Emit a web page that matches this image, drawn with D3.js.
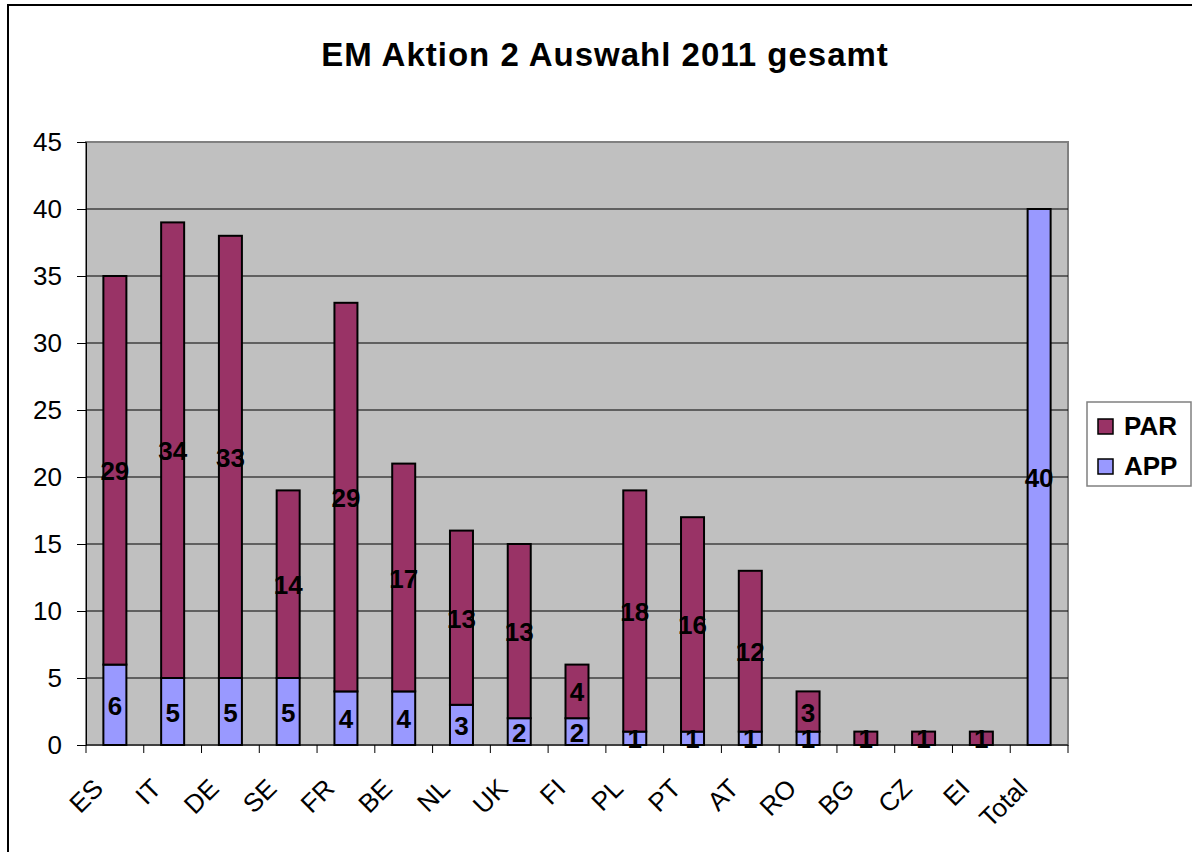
<!DOCTYPE html>
<html>
<head>
<meta charset="utf-8">
<script src="https://cdn.jsdelivr.net/npm/d3@7"></script>
<style>
  body { margin: 0; background: #fff; }
  text { font-family: "Liberation Sans", Arial, sans-serif; }
</style>
</head>
<body>
<script>
// chart data
const categories = ["ES", "IT", "DE", "SE", "FR", "BE", "NL", "UK", "FI", "PL", "PT", "AT", "RO", "BG", "CZ", "EI", "Total"]
const appValues = [6, 5, 5, 5, 4, 4, 3, 2, 2, 1, 1, 1, 1, 0, 0, 0, 40]
const parValues = [29, 34, 33, 14, 29, 17, 13, 13, 4, 18, 16, 12, 3, 1, 1, 1, 0]
const yTicks = [0, 5, 10, 15, 20, 25, 30, 35, 40, 45]
const seriesNames = ["PAR", "APP"]
const colors = { PAR: "#993366", APP: "#9999FF" }

const width = 1192, height = 852
const plot = { left: 86, right: 1068, top: 142, bottom: 745 }

const svg = d3.select("body").append("svg")
    .attr("width", width)
    .attr("height", height)

// outer border
svg.append("rect")
    .attr("x", 8).attr("y", 5)
    .attr("width", width + 10).attr("height", height + 10)
    .attr("fill", "#fff")
    .attr("stroke", "#000")
    .attr("stroke-width", 2)

svg.append("text")
    .attr("x", 605).attr("y", 66)
    .attr("text-anchor", "middle")
    .style("font-size", "33px")
    .style("font-weight", "bold")
    .style("letter-spacing", "1px")
    .text("EM Aktion 2 Auswahl 2011 gesamt")

const x = d3.scaleBand().domain(categories).range([plot.left, plot.right])
const y = d3.scaleLinear().domain([0, 45]).range([plot.bottom, plot.top])

// plot background
svg.append("rect")
    .attr("x", plot.left).attr("y", plot.top)
    .attr("width", plot.right - plot.left).attr("height", plot.bottom - plot.top)
    .attr("fill", "#C0C0C0")
    .attr("stroke", "#808080")
    .attr("stroke-width", 2)

// gridlines
svg.append("g").selectAll("line")
    .data(yTicks.filter(d => d > 0 && d < 45))
    .join("line")
    .attr("x1", plot.left).attr("x2", plot.right)
    .attr("y1", d => y(d)).attr("y2", d => y(d))
    .attr("stroke", "#000")
    .attr("stroke-width", 1)

// y axis
const yAxis = svg.append("g")
    .attr("transform", `translate(${plot.left},0)`)
    .call(d3.axisLeft(y).tickValues(yTicks).tickSize(9).tickPadding(15))
yAxis.select(".domain").attr("stroke", "#000")
yAxis.selectAll("text").style("font-size", "26px").attr("fill", "#000")
    .style("font-family", "'Liberation Sans', Arial, sans-serif")

// x axis with ticks at category boundaries
const xAxisG = svg.append("g")
    .attr("transform", `translate(0,${plot.bottom})`)
xAxisG.append("line")
    .attr("x1", plot.left).attr("x2", plot.right)
    .attr("stroke", "#000")
xAxisG.selectAll(".tk")
    .data(categories.concat([null]))
    .join("line")
    .attr("x1", (d, i) => plot.left + i * x.step())
    .attr("x2", (d, i) => plot.left + i * x.step())
    .attr("y1", 0).attr("y2", 8)
    .attr("stroke", "#000")
xAxisG.selectAll("text")
    .data(categories)
    .join("text")
    .attr("transform", d => `translate(${x(d) + x.bandwidth() / 2 - 10},${45}) rotate(-45)`)
    .attr("text-anchor", "end")
    .style("font-size", "26px")
    .text(d => d)

// stacked bars
const rows = categories.map((c, i) => ({ cat: c, APP: appValues[i], PAR: parValues[i] }))
const stack = d3.stack().keys(["APP", "PAR"])(rows)
const barW = 23

const layers = svg.append("g").selectAll("g")
    .data(stack)
    .join("g")
    .attr("fill", d => colors[d.key])

layers.selectAll("rect")
    .data(d => d.filter(p => p[1] - p[0] > 0))
    .join("rect")
    .attr("x", d => x(d.data.cat) + x.bandwidth() / 2 - barW / 2)
    .attr("y", d => y(d[1]))
    .attr("width", barW)
    .attr("height", d => y(d[0]) - y(d[1]))
    .attr("stroke", "#000")
    .attr("stroke-width", 2)

// value labels
svg.append("g").selectAll("g")
    .data(stack)
    .join("g")
    .selectAll("text")
    .data(d => d.filter(p => p[1] - p[0] > 0))
    .join("text")
    .attr("x", d => x(d.data.cat) + x.bandwidth() / 2)
    .attr("y", d => y((d[0] + d[1]) / 2) + 10)
    .attr("text-anchor", "middle")
    .attr("fill", "#000")
    .style("font-size", "26px")
    .style("font-weight", "bold")
    .text(d => d[1] - d[0])

// legend
svg.append("rect")
    .attr("x", 1087).attr("y", 402)
    .attr("width", 104).attr("height", 84)
    .attr("fill", "#fff")
    .attr("stroke", "#808080")
    .attr("stroke-width", 1.5)
const items = svg.append("g").selectAll("g")
    .data(seriesNames)
    .join("g")
    .attr("transform", (d, i) => `translate(1098,${419 + i * 40})`)
items.append("rect")
    .attr("width", 15).attr("height", 15)
    .attr("fill", d => colors[d])
    .attr("stroke", "#000")
    .attr("stroke-width", 1.5)
items.append("text")
    .attr("x", 26).attr("y", 16)
    .style("font-size", "26px")
    .style("font-weight", "bold")
    .text(d => d)
</script>
</body>
</html>
